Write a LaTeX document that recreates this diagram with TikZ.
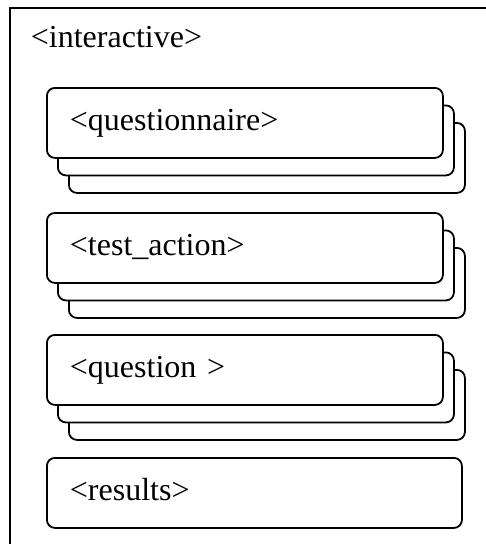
\documentclass[tikz,border=0pt]{standalone}
\usepackage{fontspec}
\setmainfont{Liberation Serif}
\usetikzlibrary{shadows}

\begin{document}
\begin{tikzpicture}[x=1pt,y=-1pt,line width=1.8pt]
    % `outer' is the <interactive> frame, cut off by the page edge.
    % `element' is a rounded box, `stack' gives it two copies behind.
    \tikzstyle{outer} = [draw,anchor=north west,minimum width=500pt,minimum height=560pt]
    \tikzstyle{element} = [draw,fill=white,rounded corners=8pt,anchor=north west,
        minimum width=396pt,minimum height=70pt,text width=350pt,align=left,
        inner xsep=23pt,text height=22pt,text depth=7pt,
        font=\fontsize{32}{38}\selectfont]
    \tikzstyle{stack} = [copy shadow={shadow xshift=22pt,shadow yshift=-35pt},
        copy shadow={shadow xshift=11pt,shadow yshift=-17.5pt}]
    \tikzstyle{tag} = [anchor=base west,inner sep=0pt,font=\fontsize{32}{38}\selectfont]
    %
    \clip (0,0) rectangle (486,544);
    \node[outer] (interactive) at (9,7) {};
    \node[tag] (interlabel) at (30,47) {<interactive>};

    \node[element,stack] (questionnaire) at (46,87) {<questionnaire>};
    \node[element,stack] (testaction) at (46,212) {<test\_action>};
    \node[element,stack] (question) at (46,334) {<question >};
    \node[element,minimum width=415pt,text width=369pt] (results) at (46,457) {<results>};
\end{tikzpicture}
\end{document}
